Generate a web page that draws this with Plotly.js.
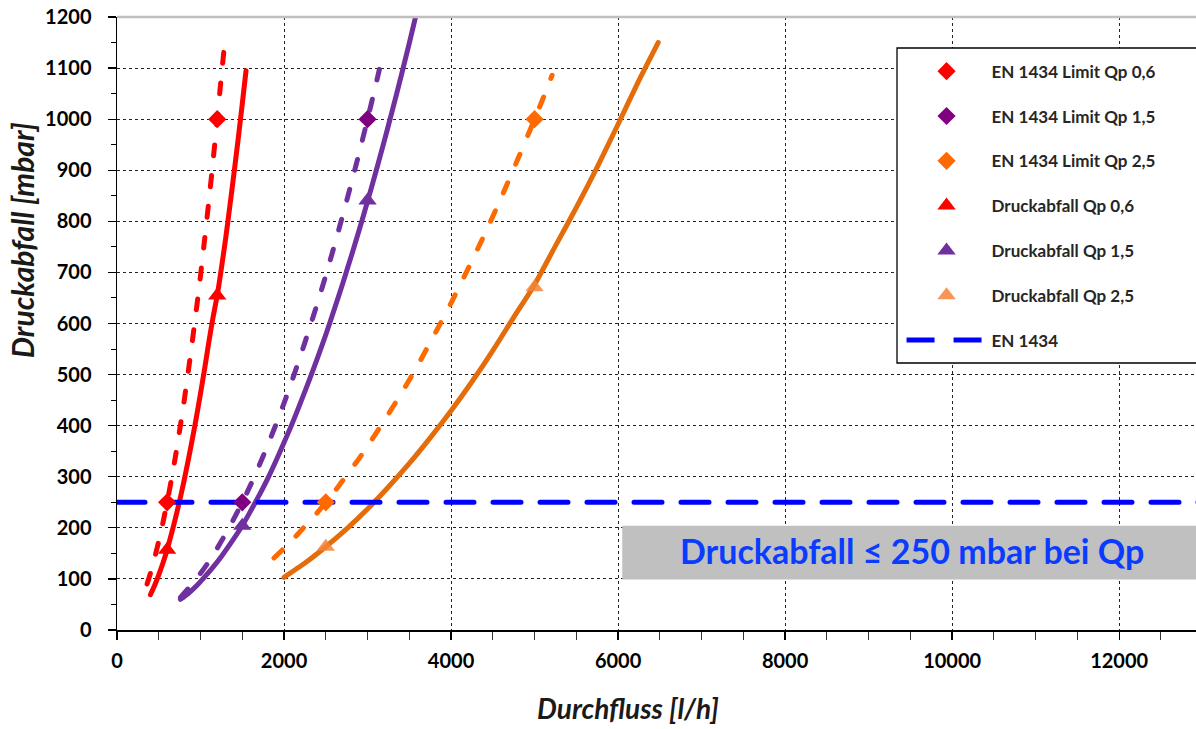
<!DOCTYPE html>
<html>
<head>
<meta charset="utf-8">
<script src="https://cdn.plot.ly/plotly-3.0.1.min.js"></script>
<style>
html,body{margin:0;padding:0;background:#fff;}
#chart{width:1196px;height:729px;}
.scatterlayer .js-line{stroke-linecap:round;stroke-linejoin:round;}
</style>
</head>
<body>
<div id="chart"></div>
<script>
// ---- Data ----
// EN 1434 limit curves (dashed)
const limitFlow06 = [360, 400, 450, 500, 550, 600, 650, 700, 750, 800, 850, 900, 950, 1000, 1050, 1100, 1150, 1200, 1250, 1290];
const limitDp06   = [90, 111, 141, 174, 210, 250, 293, 340, 391, 444, 502, 563, 627, 694, 766, 840, 918, 1000, 1085, 1150];

const limitFlow15 = [760, 900, 1000, 1100, 1200, 1300, 1400, 1500, 1600, 1700, 1800, 1900, 2000, 2100, 2200, 2300, 2400, 2500, 2600, 2700, 2800, 2900, 3000, 3100, 3190];
const limitDp15   = [64, 90, 111, 134, 160, 188, 218, 250, 284, 321, 360, 401, 444, 490, 538, 588, 640, 694, 751, 810, 871, 934, 1000, 1068, 1131];

const limitFlow25 = [1880, 2000, 2100, 2200, 2300, 2400, 2500, 2600, 2700, 2800, 2900, 3000, 3200, 3400, 3600, 3800, 4000, 4200, 4400, 4600, 4800, 5000, 5100, 5210];
const limitDp25   = [141, 160, 176, 194, 212, 230, 250, 270, 292, 314, 336, 360, 410, 462, 518, 578, 640, 706, 774, 846, 922, 1000, 1040, 1086];

// Measured pressure drop curves (solid)
const dropFlow06 = [400, 450, 500, 550, 600, 650, 700, 750, 800, 850, 900, 950, 1000, 1050, 1100, 1150, 1200, 1250, 1300, 1350, 1400, 1450, 1500, 1545];
const dropDp06   = [69, 87, 108, 131, 157, 187, 219, 253, 290, 330, 372, 416, 463, 512, 564, 612, 655, 708, 765, 828, 893, 960, 1030, 1095];

const dropFlow15 = [760, 850, 950, 1050, 1150, 1250, 1350, 1500, 1600, 1700, 1800, 1900, 2000, 2100, 2200, 2300, 2400, 2500, 2600, 2700, 2800, 2900, 3000, 3100, 3200, 3300, 3400, 3500, 3600];
const dropDp15   = [60, 71, 86, 104, 123, 144, 167, 204, 233, 263, 295, 330, 367, 405, 446, 488, 532, 578, 627, 677, 729, 783, 839, 897, 957, 1019, 1083, 1149, 1217];

const dropFlow25 = [2000, 2250, 2500, 2750, 3000, 3250, 3500, 3750, 4000, 4250, 4500, 4750, 5000, 5250, 5500, 5750, 6000, 6250, 6480];
const dropDp25   = [103, 131, 163, 198, 237, 280, 326, 376, 429, 486, 547, 612, 676, 752, 827, 906, 990, 1076, 1150];

// Marker points (Qp and 2*Qp)
const limitPtFlow06 = [600, 1200],  limitPtDp06 = [250, 1000];
const limitPtFlow15 = [1500, 3000], limitPtDp15 = [250, 1000];
const limitPtFlow25 = [2500, 5000], limitPtDp25 = [250, 1000];
const dropPtFlow06 = [600, 1200],   dropPtDp06 = [157, 655];
const dropPtFlow15 = [1500, 3000],  dropPtDp15 = [204, 841];
const dropPtFlow25 = [2500, 5000],  dropPtDp25 = [163, 671];

// EN 1434 threshold
const enFlow = [0, 13000];
const enDp   = [250, 250];

// Labels
const legendNames = ['EN 1434 Limit Qp 0,6', 'EN 1434 Limit Qp 1,5', 'EN 1434 Limit Qp 2,5',
                     'Druckabfall Qp 0,6', 'Druckabfall Qp 1,5', 'Druckabfall Qp 2,5', 'EN 1434'];
const xTitle = 'Durchfluss [l/h]';
const yTitle = 'Druckabfall [mbar]';
const noteText = 'Druckabfall ≤ 250 mbar bei Qp';
const noteBox = {x0: 6050, x1: 13000, y0: 99, y1: 204};

// ---- Styles ----
const RED = '#FF0000', PURPLE = '#7030A0', PURPLE_D = '#800080',
      ORANGE = '#FF6A00', ORANGE_S = '#E46C0A', ORANGE_T = 'rgba(244,132,56,0.85)', BLUE = '#0000FF';
const FONT = 'Lato, "Open Sans", sans-serif';

function line(x, y, color, width, dash) {
  return {x, y, type: 'scatter', mode: 'lines', showlegend: false, hoverinfo: 'skip',
          line: {color, width, dash: dash || 'solid', shape: 'spline', smoothing: 0.6}};
}
function pts(x, y, name, symbol, color, size, rank) {
  return {x, y, type: 'scatter', mode: 'markers', name, legendgroup: 'g' + rank, legendrank: rank,
          marker: {symbol, color, size, line: {width: 0}}};
}

const traces = [
  line(limitFlow06, limitDp06, RED, 5, '11px,20px'),
  line(limitFlow15, limitDp15, PURPLE, 5, '11px,20px'),
  line(limitFlow25, limitDp25, ORANGE, 5, '11px,20px'),
  line(dropFlow06, dropDp06, RED, 5),
  line(dropFlow15, dropDp15, PURPLE, 5),
  line(dropFlow25, dropDp25, ORANGE_S, 5),
  {x: enFlow, y: enDp, type: 'scatter', mode: 'lines', name: legendNames[6], legendgroup: 'g7', legendrank: 7,
   line: {color: BLUE, width: 5, dash: '28px,19px'}},
  pts(limitPtFlow06, limitPtDp06, legendNames[0], 'diamond', RED, 14, 1),
  pts(limitPtFlow15, limitPtDp15, legendNames[1], 'diamond', PURPLE_D, 14, 2),
  pts(limitPtFlow25, limitPtDp25, legendNames[2], 'diamond', ORANGE, 14, 3),
  pts(dropPtFlow06, dropPtDp06, legendNames[3], 'triangle-up', RED, 16, 4),
  pts(dropPtFlow15, dropPtDp15, legendNames[4], 'triangle-up', PURPLE, 16, 5),
  pts(dropPtFlow25, dropPtDp25, legendNames[5], 'triangle-up', ORANGE_T, 16, 6)
];

const layout = {
  width: 1196, height: 729,
  margin: {l: 117, r: 0, t: 17, b: 99, pad: 0},
  paper_bgcolor: '#fff', plot_bgcolor: '#fff',
  font: {family: FONT, color: '#000'},
  showlegend: true,
  legend: {
    x: 0.7271, xanchor: 'left', y: 0.9402, yanchor: 'top',
    bgcolor: 'rgba(0,0,0,0)', borderwidth: 0,
    font: {family: FONT, size: 17, color: '#262626', weight: 'bold'},
    itemwidth: 80, tracegroupgap: 19.7, itemsizing: 'trace',
    traceorder: 'grouped'
  },
  xaxis: {
    range: [0, 12920], dtick: 2000, tick0: 0, tickformat: 'd',
    showgrid: true, gridcolor: '#222', griddash: 'dot', gridwidth: 1,
    zeroline: false, showline: true, linecolor: '#000', linewidth: 1.5,
    ticks: 'outside', ticklen: 8, tickcolor: '#000', tickwidth: 1.3,
    minor: {dtick: 500, ticks: 'outside', ticklen: 8, tickcolor: '#333', tickwidth: 1, showgrid: false},
    tickfont: {family: FONT, size: 20, color: '#000', weight: 'bold'},
    ticklabelstandoff: 4,
    fixedrange: true
  },
  yaxis: {
    range: [0, 1200], dtick: 100, tick0: 0, tickformat: 'd',
    showgrid: true, gridcolor: '#222', griddash: 'dot', gridwidth: 1,
    zeroline: false, showline: true, linecolor: '#000', linewidth: 1.5,
    ticks: 'outside', ticklen: 8, tickcolor: '#000', tickwidth: 1.3,
    minor: {dtick: 50, ticks: 'outside', ticklen: 5, tickcolor: '#000', tickwidth: 1, showgrid: false},
    tickfont: {family: FONT, size: 20, color: '#000', weight: 'bold'},
    ticklabelstandoff: 12,
    fixedrange: true
  },
  xaxis2: {overlaying: 'x', anchor: 'y', side: 'bottom', range: [0, 12920], dtick: 2000, tick0: 0,
    showgrid: false, zeroline: false, showline: false, showticklabels: false,
    ticks: 'inside', ticklen: 10, tickcolor: '#000', tickwidth: 1.3,
    minor: {dtick: 500, ticks: 'inside', ticklen: 8, tickcolor: '#333', tickwidth: 1}},
  yaxis2: {overlaying: 'y', anchor: 'x', side: 'left', range: [0, 1200], dtick: 100, tick0: 0,
    showgrid: false, zeroline: false, showline: false, showticklabels: false,
    ticks: 'inside', ticklen: 10, tickcolor: '#000', tickwidth: 1.3,
    minor: {dtick: 50, ticks: 'inside', ticklen: 5, tickcolor: '#000', tickwidth: 1}},
  shapes: [
    {type: 'rect', xref: 'x', yref: 'y', x0: noteBox.x0, x1: noteBox.x1, y0: noteBox.y0, y1: noteBox.y1,
     fillcolor: '#C0C0C0', line: {width: 0}, layer: 'above'},
    {type: 'line', xref: 'paper', yref: 'paper', x0: 0, x1: 1, y0: 1, y1: 1,
     line: {color: '#BFBFBF', width: 2.5}, layer: 'above'},
    // legend frame (extends past the right edge as in the reference)
    {type: 'rect', xref: 'paper', yref: 'paper', x0: 0.7229, x1: 1.02, y0: 0.4356, y1: 0.9494,
     fillcolor: '#fff', line: {color: '#000', width: 1.3}, layer: 'above'}
  ],
  annotations: [
    {text: noteText, xref: 'x', yref: 'y', x: 9520, y: 155, showarrow: false,
     font: {family: FONT, size: 34, color: '#0A3CFF', weight: 'bold'}},
    {text: xTitle, xref: 'paper', yref: 'paper', x: 0.4736, y: -0.127, xanchor: 'center', yanchor: 'middle',
     showarrow: false,
     font: {family: FONT, size: 28, color: '#1a1a1a', weight: 'bold', style: 'italic'}},
    {text: yTitle, xref: 'paper', yref: 'paper', x: -0.088, y: 0.636, xanchor: 'center', yanchor: 'middle',
     textangle: -90, showarrow: false,
     font: {family: FONT, size: 30, color: '#1a1a1a', weight: 'bold', style: 'italic'}}
  ]
};

Plotly.newPlot('chart', traces, layout, {displayModeBar: false, staticPlot: true});
</script>
</body>
</html>
